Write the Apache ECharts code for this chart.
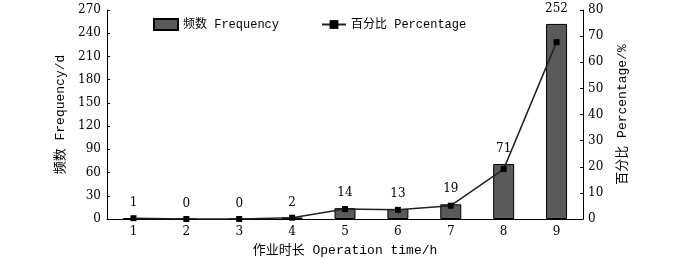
<!DOCTYPE html>
<html>
<head>
<meta charset="utf-8">
<script src="https://cdn.jsdelivr.net/npm/echarts@6/dist/echarts.min.js"></script>
<style>
  html, body { margin: 0; padding: 0; background: #fff; }
  #chart { width: 700px; height: 258px; }
</style>
</head>
<body>
<div id="chart"></div>
<script>
// data
var hours = ['1', '2', '3', '4', '5', '6', '7', '8', '9'];
var frequency = [1, 0, 0, 2, 14, 13, 19, 71, 252];
var percentage = [0.3, 0, 0, 0.5, 3.8, 3.5, 5.1, 19.1, 67.7];

var font = "'Liberation Mono', 'Noto Sans CJK SC', monospace";
var numFont = "'DejaVu Serif', 'Liberation Serif', serif";

var myChart = echarts.init(document.getElementById('chart'));

var option = {
  animation: false,
  textStyle: { fontFamily: font, color: '#000' },
  legend: {
    top: 13,
    left: 148,
    itemGap: 42,
    itemWidth: 24,
    itemHeight: 11,
    textStyle: { fontFamily: font, fontSize: 12, color: '#000' },
    data: [
      { name: '频数 Frequency', icon: 'rect' },
      { name: '百分比 Percentage' }
    ]
  },
  grid: { left: 107, right: 117, top: 10, bottom: 39, outerBoundsMode: 'none', containLabel: false },
  xAxis: {
    type: 'category',
    data: hours,
    name: '作业时长 Operation time/h',
    nameLocation: 'middle',
    nameGap: 25,
    nameTextStyle: { fontFamily: font, fontSize: 13, color: '#000' },
    axisLine: { lineStyle: { color: '#000', width: 1 } },
    axisTick: { show: false },
    axisLabel: { fontFamily: numFont, fontSize: 12, color: '#000', margin: 7 }
  },
  yAxis: [
    {
      type: 'value',
      min: 0,
      max: 270,
      interval: 30,
      name: '频数 Frequency/d',
      nameLocation: 'middle',
      nameGap: 37,
      nameRotate: 90,
      nameTextStyle: { fontFamily: font, fontSize: 13, color: '#000' },
      axisLine: { show: true, lineStyle: { color: '#000', width: 1 } },
      axisTick: { show: true, inside: true, length: 3, lineStyle: { color: '#000' } },
      axisLabel: { fontFamily: numFont, fontSize: 12, color: '#000', margin: 6 },
      splitLine: { show: false }
    },
    {
      type: 'value',
      min: 0,
      max: 80,
      interval: 10,
      name: '百分比 Percentage/%',
      nameLocation: 'middle',
      nameGap: 33,
      nameRotate: 90,
      nameTextStyle: { fontFamily: font, fontSize: 13, color: '#000' },
      axisLine: { show: true, lineStyle: { color: '#000', width: 1 } },
      axisTick: { show: true, inside: true, length: 3, lineStyle: { color: '#000' } },
      axisLabel: { fontFamily: numFont, fontSize: 12, color: '#000', margin: 5 },
      splitLine: { show: false }
    }
  ],
  series: [
    {
      name: '频数 Frequency',
      type: 'bar',
      data: frequency,
      barWidth: 21,
      itemStyle: { color: '#5a5a5a', borderColor: '#000', borderWidth: 1 },
      label: {
        show: true,
        position: 'top',
        distance: 9,
        fontFamily: numFont,
        fontSize: 12,
        color: '#000'
      }
    },
    {
      name: '百分比 Percentage',
      type: 'line',
      yAxisIndex: 1,
      data: percentage,
      symbol: 'rect',
      symbolSize: 6,
      lineStyle: { color: '#222', width: 1.5 },
      itemStyle: { color: '#000' }
    }
  ]
};

myChart.setOption(option);
</script>
</body>
</html>
